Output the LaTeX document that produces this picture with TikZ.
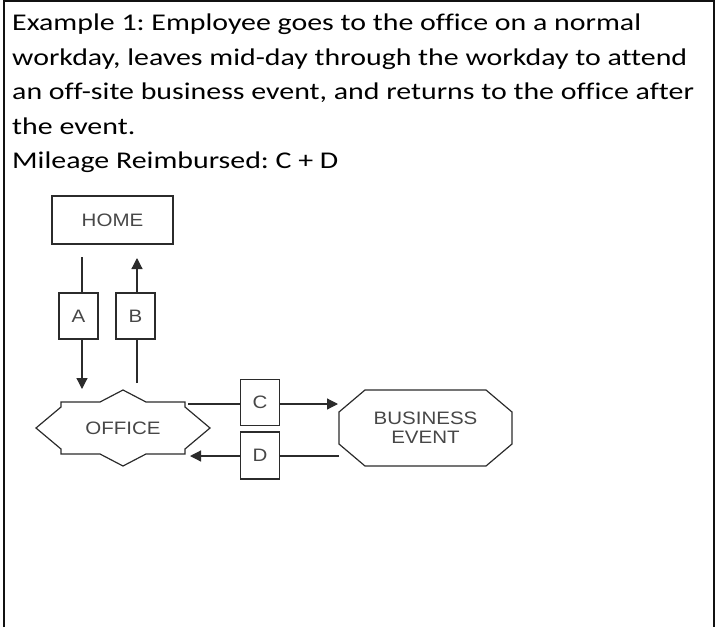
\documentclass[tikz,border=0pt]{standalone}
\usepackage{fontspec}
\setmainfont[FakeStretch=1.245, Ligatures=NoCommon]{Carlito}
\newfontfamily\diagfont[FakeStretch=1.14]{Liberation Sans}
\usetikzlibrary{arrows.meta, positioning, calc}
\definecolor{framegrey}{HTML}{111111}
\definecolor{linegrey}{HTML}{2b2b2b}
\definecolor{labelgrey}{HTML}{474747}
\tikzset{
  titletext/.style={align=left, inner sep=0pt, font=\fontsize{24}{34.4}\selectfont\frenchspacing},
  placebox/.style={rectangle, draw=linegrey, line width=1.2pt,
                   minimum width=121pt, minimum height=48pt, inner sep=0pt,
                   font=\diagfont\fontsize{18}{19}\selectfont, text=labelgrey},
  legbox/.style={rectangle, draw=linegrey, line width=1.2pt,
                 minimum width=39pt, minimum height=46pt, inner sep=0pt,
                 font=\diagfont\fontsize{18}{19}\selectfont, text=labelgrey},
  shapetext/.style={inner sep=0pt, align=center,
                    font=\diagfont\fontsize{18}{19}\selectfont, text=labelgrey},
  outline/.style={draw=linegrey, line width=1.2pt, line join=miter},
  trip/.style={-{Triangle[length=11pt,width=11pt]}, line width=1.2pt, draw=linegrey},
  tripline/.style={line width=1.2pt, draw=linegrey},
}
\begin{document}
\begin{tikzpicture}[x=1pt, y=-1pt]
  \useasboundingbox (0,0) rectangle (715,627);

  % --- Frame ---
  \draw[framegrey, line width=2.5pt] (4,627) -- (4,1.2) -- (714,1.2) -- (714,627);

  % --- Text ---
  \node[titletext, anchor=north west] (title) at (12,14)
    {Example 1: Employee goes to the office on a normal\\
     workday, leaves mid-day through the workday to attend\\
     an off-site business event, and returns to the office after\\
     the event.\\
     Mileage Reimbursed: C + D};

  % --- Places ---
  \node[placebox] (home) at (112.5,220) {HOME};
  \node[shapetext] (office) at (123,428) {OFFICE};
  \node[shapetext] (event) at (425.5,428) {BUSINESS\\EVENT};

  % office star
  \draw[outline, shift={(office.center)}]
    (-62,-26) -- (-23,-26) -- (0,-38) -- (23,-26) -- (62,-26) -- (62,-21)
    -- (87,0) -- (62,21) -- (62,26) -- (23,26) -- (0,38) -- (-23,26)
    -- (-62,26) -- (-62,21) -- (-87,0) -- (-62,-21) -- cycle;
  % event octagon
  \draw[outline, shift={(event.center)}]
    (-60.5,-38) -- (60.5,-38) -- (86.5,-16) -- (86.5,16) -- (60.5,38)
    -- (-60.5,38) -- (-86.5,16) -- (-86.5,-16) -- cycle;

  % --- Legs ---
  \node[legbox] (legA) at (78.5,316) {A};
  \node[legbox] (legB) at (135.5,316) {B};
  \node[legbox] (legC) at (260,402.5) {C};
  \node[legbox, minimum height=47pt] (legD) at (260,455.5) {D};

  \coordinate (aout) at (82,257);
  \coordinate (ain)  at (82,389);
  \coordinate (bout) at (137,383);
  \coordinate (bin)  at (137,258);
  \coordinate (cout) at (188,404);
  \coordinate (cin)  at (338,404);
  \coordinate (dout) at (339,456);
  \coordinate (din)  at (190,456);

  \draw[tripline] (aout) -- (aout |- legA.north);
  \draw[trip] (ain |- legA.south) -- (ain);
  \draw[tripline] (bout) -- (bout |- legB.south);
  \draw[trip] (bin |- legB.north) -- (bin);
  \draw[tripline] (cout) -- (cout -| legC.west);
  \draw[trip] (cin -| legC.east) -- (cin);
  \draw[tripline] (dout) -- (dout -| legD.east);
  \draw[trip] (din -| legD.west) -- (din);

\end{tikzpicture}
\end{document}
